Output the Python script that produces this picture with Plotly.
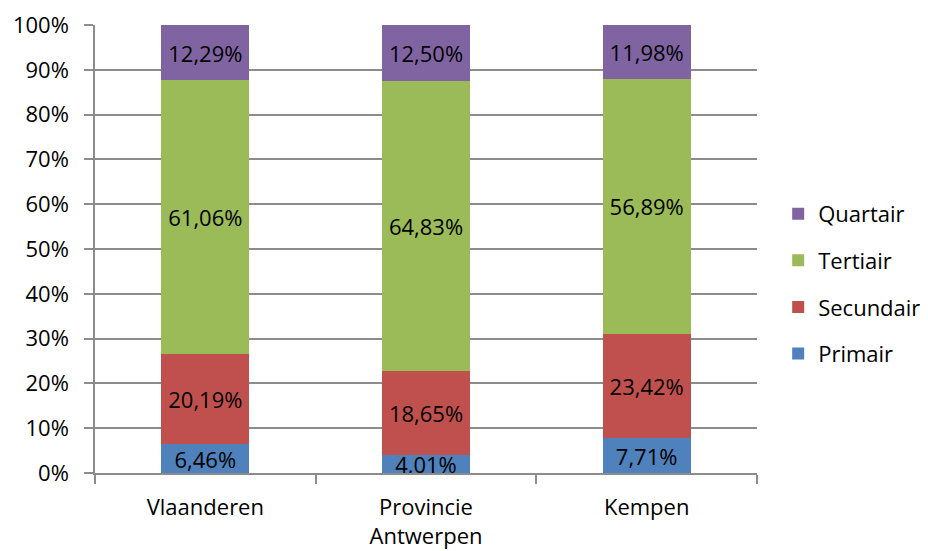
import plotly.graph_objects as go

categories = ["Vlaanderen", "Provincie<br>Antwerpen", "Kempen"]
series_names = ["Primair", "Secundair", "Tertiair", "Quartair"]
primair = [6.46, 4.01, 7.71]
secundair = [20.19, 18.65, 23.42]
tertiair = [61.06, 64.83, 56.89]
quartair = [12.29, 12.50, 11.98]
colors = ["#4F81BD", "#C0504D", "#9BBB59", "#8064A2"]
legend_ranks = [4, 3, 2, 1]
y_ticks = [0, 10, 20, 30, 40, 50, 60, 70, 80, 90, 100]
y_tick_labels = ["0%", "10%", "20%", "30%", "40%", "50%", "60%", "70%", "80%", "90%", "100%"]

FONT = "Open Sans"
FS = 22
fig = go.Figure()
for name, vals, col, rk in zip(series_names, [primair, secundair, tertiair, quartair], colors, legend_ranks):
    fig.add_trace(go.Bar(
        x=categories, y=vals, name=name, marker_color=col, marker_line_width=0,
        texttemplate="%{y:.2f}%", textposition="inside", insidetextanchor="middle",
        textfont=dict(family=FONT, size=FS, color="black"),
        legendgroup=name, legendrank=rk, width=0.4,
    ))

fig.update_layout(
    width=944, height=551,
    barmode="stack",
    separators=",.",
    plot_bgcolor="white", paper_bgcolor="white",
    margin=dict(l=87, r=195, t=17, b=86),
    font=dict(family=FONT, size=FS, color="black"),
    uniformtext=dict(minsize=FS, mode="show"),
    legend=dict(x=1.032, y=0.422, xanchor="left", yanchor="middle",
                traceorder="grouped", tracegroupgap=15,
                font=dict(family=FONT, size=FS, color="black"),
                itemwidth=30),
    showlegend=True,
)
fig.update_yaxes(range=[0, 100], tickvals=y_ticks, ticktext=y_tick_labels,
                 showgrid=True, gridcolor="#8C8C8C", gridwidth=1.5,
                 showline=True, linecolor="#8C8C8C", linewidth=1.5,
                 ticks="outside", ticklen=9, tickcolor="#8C8C8C", tickwidth=1.5,
                 ticklabelstandoff=11, zeroline=False, automargin=False)
fig.update_xaxes(showline=True, linecolor="#8C8C8C", linewidth=1.5,
                 ticks="outside", tickson="boundaries", ticklen=9,
                 tickcolor="#8C8C8C", tickwidth=1.5, ticklabelstandoff=14,
                 automargin=False)

fig.write_html("out.html")
